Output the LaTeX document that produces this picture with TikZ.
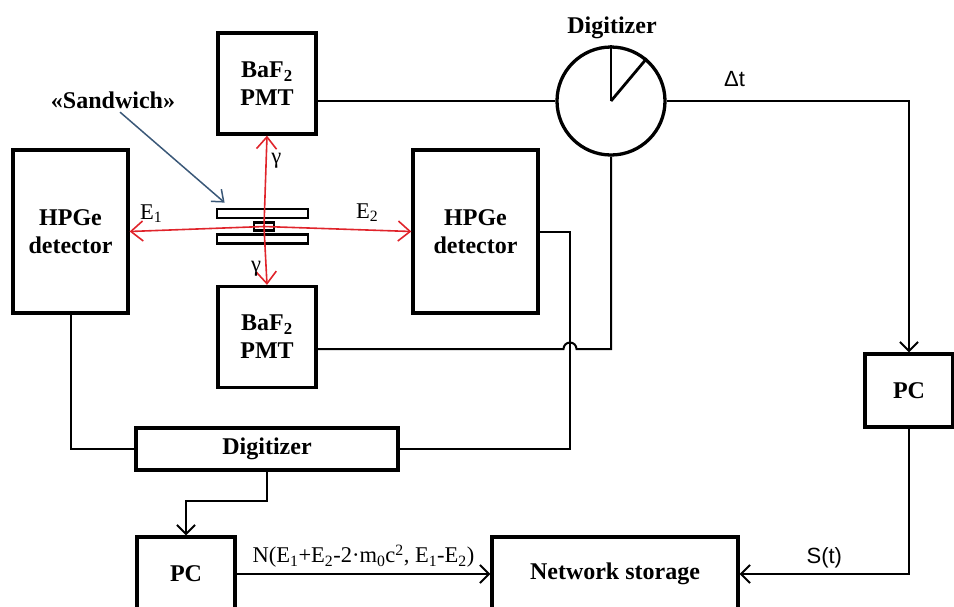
\documentclass[tikz,border=0pt]{standalone}
\usepackage{fontspec}
\setmainfont{Liberation Serif}
\setsansfont{Liberation Sans}
\usepackage{tikz}
\usetikzlibrary{positioning,arrows.meta,calc}
\definecolor{cRay}{HTML}{E0242B}
\definecolor{cPtr}{HTML}{3A5878}

\begin{document}
\begin{tikzpicture}[x=1pt, y=1pt,
  box/.style={draw, line width=3.3pt, align=center, inner sep=2pt, font=\fontsize{24}{28}\selectfont\bfseries},
  plate/.style={draw, line width=2.8pt, inner sep=0pt},
  wire/.style={line width=2pt},
  arr/.style={wire, -{Straight Barb[length=9pt, width=18pt, line width=2pt]}},
  ray/.style={cRay, line width=1.6pt, -{Straight Barb[length=12pt, width=20pt, line width=1.6pt]}},
  lbl/.style={text=black, font=\fontsize{22.5}{24}\selectfont},
  slbl/.style={text=black, font=\fontsize{22}{24}\selectfont\sffamily}
]
\useasboundingbox (0,0) rectangle (954,-606);
\node[box, minimum width=98pt, minimum height=101pt] (pmtT) at (267,-83.5) {BaF\textsubscript{2}\\PMT};
\node[box, minimum width=98pt, minimum height=101pt] (pmtB) at (267,-337) {BaF\textsubscript{2}\\PMT};
\node[box, minimum width=115pt, minimum height=163pt] (hpgeL) at (70.5,-231.5) {HPGe\\detector};
\node[box, minimum width=125pt, minimum height=163pt] (hpgeR) at (475.5,-231.5) {HPGe\\detector};
\node[draw, circle, line width=3.3pt, minimum size=108pt, inner sep=0pt] (dig) at (611,-101) {};
\node[box, draw=none] (digLbl) at (612,-28) {Digitizer};
\node[box, minimum width=262pt, minimum height=42pt] (digB) at (267,-449) {Digitizer};
\node[box, minimum width=98pt, minimum height=74pt] (pcL) at (186,-574) {PC};
\node[box, minimum width=246pt, minimum height=74pt] (net) at (615,-574) {Network storage};
\node[box, minimum width=88pt, minimum height=73pt] (pcR) at (909,-390.5) {PC};
\node[box, draw=none] (sandLbl) at (113,-100) {«Sandwich»};
\node[plate, minimum width=91pt, minimum height=9pt] (plateT) at (262.5,-213.5) {};
\node[plate, minimum width=20pt, minimum height=8pt] (core) at (264,-226.5) {};
\node[plate, minimum width=91pt, minimum height=9pt] (plateB) at (262.5,-239) {};
\coordinate (pmtBin) at ($(pmtB.east)+(0,-12)$);
\coordinate (turnR) at (570,-449);
\draw[line width=2.8pt] (dig.center) -- (dig.north);
\draw[line width=2.8pt] (dig.center) -- (dig.50);
\draw[wire] (pmtT.east |- dig.west) -- (dig.west);
\draw[arr] (dig.east) -| node[slbl, pos=0.14, above=10pt] {Δt} (pcR.north);
\draw[wire] (hpgeR.east) -| (turnR) -- (digB.east);
\draw[wire] (dig.south) |- ($(turnR |- pmtBin)+(6.5,0)$) arc[start angle=0, end angle=180, radius=6.5] -- (pmtBin);
\draw[wire] (hpgeL.south) |- (digB.west);
\draw[arr] (digB.south) -- ++(0,-29) -| (pcL.north);
\draw[arr] (pcL.east) -- node[lbl, above=2pt] {N(E\textsubscript{1}+E\textsubscript{2}-2·m\textsubscript{0}c\textsuperscript{2}, E\textsubscript{1}-E\textsubscript{2})} (net.west);
\draw[arr] (pcR.south) |- node[slbl, pos=0.75, above=2pt] {S(t)} (net.east);
\draw[ray] (core.center) -- node[lbl, right=1pt, pos=0.72] {γ} (pmtT.south);
\draw[ray] (core.center) -- node[lbl, left=1pt, pos=0.72] {γ} (pmtB.north);
\draw[ray] (core.center) -- node[lbl, above=4pt, pos=0.84] {E\textsubscript{1}} (hpgeL.east);
\draw[ray] (core.center) -- node[lbl, above=4pt, pos=0.7] {E\textsubscript{2}} (hpgeR.west);
\draw[cPtr, line width=1.5pt, -{Straight Barb[length=10pt, width=16pt, line width=1.5pt]}] ([xshift=7pt]sandLbl.south) -- ([shift={(9pt,5pt)}]plateT.north west);
\end{tikzpicture}
\end{document}
